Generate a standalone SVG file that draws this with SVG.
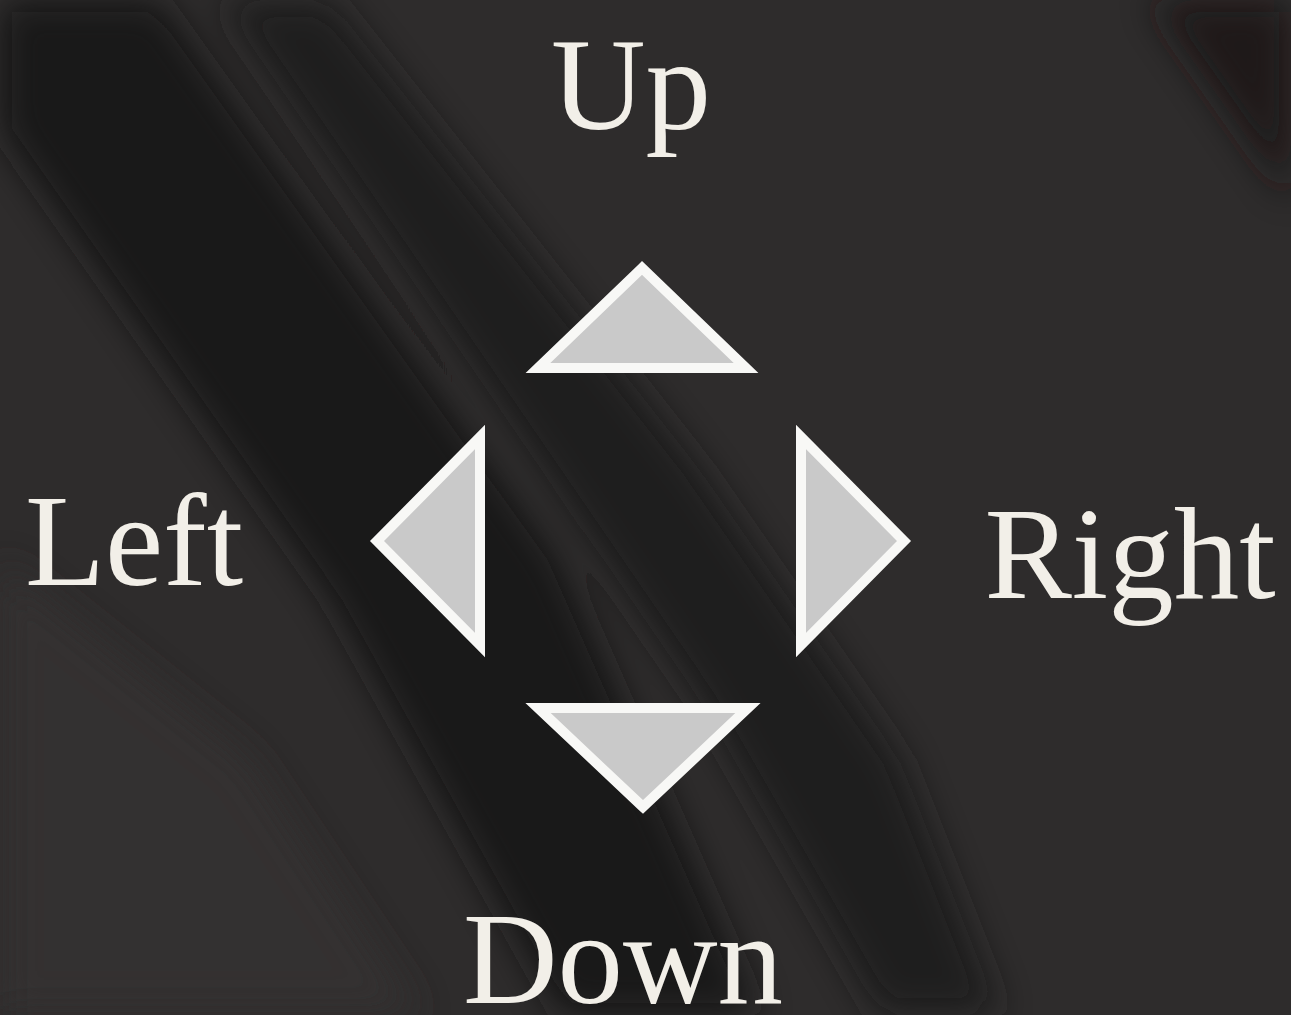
<svg xmlns="http://www.w3.org/2000/svg" width="1291" height="1015" viewBox="0 0 1291 1015">
<style>
.lbl{font-family:"Liberation Serif","DejaVu Serif",serif;fill:#f2efe8;font-size:131px}
.tri{fill:#c9c9c9;stroke:#f8f8f6;stroke-width:10;stroke-linejoin:miter}
</style>
<defs>
<filter id="blur" x="-20%" y="-20%" width="140%" height="140%"><feGaussianBlur stdDeviation="18"/></filter>
</defs>
<g id="background">
<rect width="1291" height="1015" fill="#2e2c2c"/>
<g filter="url(#blur)" opacity="0.85">
<path d="M0 0 L160 0 L560 560 L760 1015 L560 1015 L330 600 L0 130 Z" fill="#161515"/>
<path d="M220 0 L330 0 L700 470 L900 760 L1000 1015 L880 1015 L700 700 Z" fill="#1c1b1b"/>
<path d="M1150 0 L1291 0 L1291 200 Z" fill="#1a1919"/>
<path d="M0 560 L250 760 L420 1015 L0 1015 Z" fill="#343232"/>
</g>
</g>
<g id="node-up"><polygon class="tri" points="642,268 538,368 746,368"/><text class="lbl" x="631" y="129" text-anchor="middle">Up</text></g>
<g id="node-left"><polygon class="tri" points="377,541 480,437 480,645"/><text class="lbl" x="134" y="585" text-anchor="middle">Left</text></g>
<g id="node-right"><polygon class="tri" points="904,541 801,437 801,645"/><text class="lbl" x="1130" y="598" text-anchor="middle">Right</text></g>
<g id="node-down"><polygon class="tri" points="643,807 538,708 748,708"/><text class="lbl" x="623" y="1003" text-anchor="middle">Down</text></g>
<g id="connectors"/>
</svg>
